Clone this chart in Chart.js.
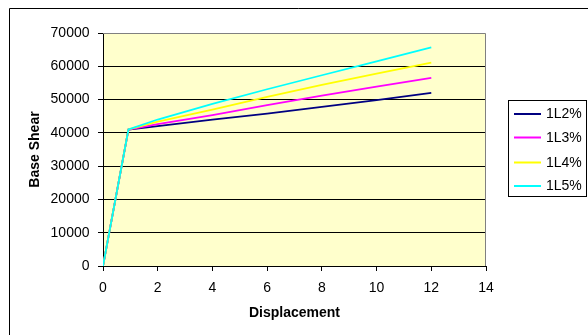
<!DOCTYPE html>
<html lang="en">
<head>
<meta charset="UTF-8">
<title>Base Shear vs Displacement</title>
<script src="https://cdn.jsdelivr.net/npm/chart.js"></script>
<style>
  html, body { margin: 0; padding: 0; background: #fff; }
  canvas { display: block; }
</style>
</head>
<body>
<canvas id="chart" width="588" height="335"></canvas>
<script>
// displacement points
var displacement = [0, 0.93, 2, 4, 6, 8, 10, 12];

var shear1L2 = [0, 41000, 42000, 44000, 45800, 47800, 49800, 52000];
var shear1L3 = [0, 41000, 42600, 45300, 48300, 51200, 53900, 56500];
var shear1L4 = [0, 41000, 43400, 47000, 50800, 54400, 57800, 61100];
var shear1L5 = [0, 41000, 44000, 48700, 53100, 57300, 61500, 65700];

var seriesNames = ['1L2%', '1L3%', '1L4%', '1L5%'];
var seriesColors = ['#000080', '#ff00ff', '#ffff00', '#00ffff'];

var xTicks = [0, 2, 4, 6, 8, 10, 12, 14];
var yTicks = [0, 10000, 20000, 30000, 40000, 50000, 60000, 70000];

function points(ys) {
  return displacement.map(function (x, i) { return { x: x, y: ys[i] }; });
}

var allSeries = [shear1L2, shear1L3, shear1L4, shear1L5];

Chart.defaults.font.family = '"Liberation Sans", Arial, sans-serif';
Chart.defaults.color = '#000';

// plot background, frame, and the boxed legend on the right
var excelLook = {
  id: 'excelLook',
  beforeDraw: function (chart) {
    var ctx = chart.ctx, a = chart.chartArea;
    ctx.save();
    ctx.fillStyle = '#fff';
    ctx.fillRect(0, 0, chart.width, chart.height);
    ctx.strokeStyle = '#000';
    ctx.lineWidth = 1;
    ctx.beginPath();
    ctx.moveTo(9.5, chart.height);
    ctx.lineTo(9.5, 8.5);
    ctx.lineTo(chart.width, 8.5);
    ctx.stroke();
    ctx.fillStyle = '#ffffcc';
    ctx.fillRect(a.left, a.top, a.right - a.left, a.bottom - a.top);
    ctx.restore();
  },
  beforeDatasetsDraw: function (chart) {
    var ctx = chart.ctx, a = chart.chartArea;
    ctx.save();
    ctx.strokeStyle = '#808080';
    ctx.lineWidth = 1;
    ctx.beginPath();
    ctx.moveTo(a.left, a.top + 0.5);
    ctx.lineTo(a.right - 0.5, a.top + 0.5);
    ctx.lineTo(a.right - 0.5, a.bottom);
    ctx.stroke();
    ctx.restore();
  },
  afterDraw: function (chart) {
    var ctx = chart.ctx;
    ctx.save();
    ctx.strokeStyle = '#000';
    ctx.lineWidth = 1;
    ctx.strokeRect(508.5, 100.5, 78, 96);
    var rows = [114, 137.5, 162.5, 186];
    ctx.font = '14px "Liberation Sans", Arial, sans-serif';
    ctx.textBaseline = 'middle';
    ctx.textAlign = 'left';
    chart.data.datasets.forEach(function (ds, i) {
      ctx.strokeStyle = ds.borderColor;
      ctx.lineWidth = 2;
      ctx.beginPath();
      ctx.moveTo(514, rows[i]);
      ctx.lineTo(541, rows[i]);
      ctx.stroke();
      ctx.fillStyle = '#000';
      ctx.fillText(ds.label, 546, rows[i] + 0.5);
    });
    ctx.restore();
  }
};

var datasets = allSeries.map(function (ys, i) {
  return {
    label: seriesNames[i],
    data: points(ys),
    borderColor: seriesColors[i],
    backgroundColor: seriesColors[i],
    borderWidth: 1.75,
    pointRadius: 0,
    tension: 0,
    fill: false,
    order: allSeries.length - 1 - i
  };
});

new Chart(document.getElementById('chart'), {
  type: 'line',
  data: { datasets: datasets },
  options: {
    responsive: false,
    animation: false,
    layout: { padding: { left: 10, right: 102, top: 33, bottom: 0 } },
    plugins: {
      legend: { display: false },
      tooltip: { enabled: false }
    },
    scales: {
      x: {
        type: 'linear',
        min: 0,
        max: 14,
        afterFit: function (s) { s.height = 69; },
        afterBuildTicks: function (s) { s.ticks = xTicks.map(function (v) { return { value: v }; }); },
        grid: { drawOnChartArea: false, drawTicks: true, tickLength: 5, tickColor: '#000' },
        border: { color: '#000', width: 1 },
        ticks: { padding: 8.5, font: { size: 14 }, color: '#000', callback: function (v) { return String(v); } },
        title: {
          display: true,
          text: 'Displacement',
          font: { size: 14, weight: 'bold' },
          color: '#000',
          padding: { top: 0, bottom: 13.6 }
        }
      },
      y: {
        min: 0,
        max: 70000,
        afterFit: function (s) { s.width = 93; },
        afterBuildTicks: function (s) { s.ticks = yTicks.map(function (v) { return { value: v }; }); },
        grid: {
          color: function (c) { return c.tick && c.tick.value === 70000 ? 'rgba(0,0,0,0)' : '#000'; },
          tickColor: '#000',
          tickLength: 5,
          lineWidth: 1
        },
        border: { color: '#000', width: 1 },
        ticks: { padding: 8.5, font: { size: 14 }, color: '#000', callback: function (v) { return String(v); } },
        title: {
          display: true,
          text: 'Base Shear',
          font: { size: 14, weight: 'bold' },
          color: '#000',
          padding: { top: 16.6, bottom: 0 }
        }
      }
    }
  },
  plugins: [excelLook]
});
</script>
</body>
</html>
